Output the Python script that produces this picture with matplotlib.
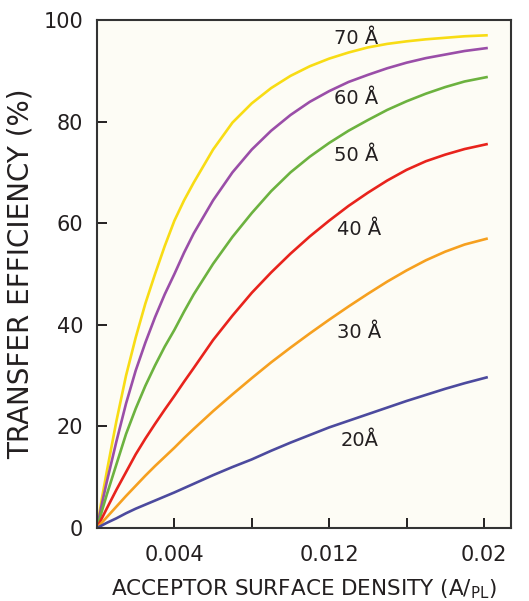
import matplotlib
matplotlib.use("Agg")
import matplotlib.pyplot as plt

# acceptor surface density (A/PL)
density = [0, 0.00025, 0.0005, 0.001, 0.0015, 0.002, 0.0025, 0.003, 0.0035, 0.004, 0.0045,
           0.005, 0.006, 0.007, 0.008, 0.009, 0.010, 0.011, 0.012, 0.013, 0.014,
           0.015, 0.016, 0.017, 0.018, 0.019, 0.0202]

# transfer efficiency (%) for each R0
eff_70 = [0, 5.8, 11, 21, 30, 37.5, 44.2, 50, 55.5, 60.5, 64.5, 68, 74.5, 79.8, 83.6, 86.6, 89,
          90.9, 92.4, 93.6, 94.6, 95.3, 95.8, 96.2, 96.5, 96.8, 97]
eff_60 = [0, 4.7, 9, 17, 24.5, 31, 36.5, 41.5, 46, 50, 54.2, 58, 64.5, 70, 74.5, 78.2, 81.3,
          83.9, 86, 87.8, 89.2, 90.5, 91.6, 92.5, 93.2, 93.9, 94.5]
eff_50 = [0, 3.3, 6.5, 12.5, 18.5, 23.5, 28, 32, 35.7, 39, 42.6, 46, 52, 57.3, 62, 66.3, 70,
          73.1, 75.8, 78.2, 80.3, 82.3, 84, 85.5, 86.8, 87.9, 88.8]
eff_40 = [0, 1.9, 3.8, 7.5, 11, 14.5, 17.6, 20.5, 23.3, 26, 28.8, 31.5, 37, 41.8, 46.3, 50.3, 54,
          57.4, 60.5, 63.4, 66, 68.4, 70.5, 72.2, 73.5, 74.6, 75.6]
eff_30 = [0, 1.05, 2.1, 4.2, 6.3, 8.3, 10.3, 12.2, 14, 15.8, 17.7, 19.5, 23, 26.3, 29.5, 32.6, 35.5,
          38.3, 41, 43.6, 46.1, 48.5, 50.7, 52.7, 54.4, 55.8, 57]
eff_20 = [0, 0.5, 1, 1.9, 2.9, 3.8, 4.6, 5.4, 6.2, 7, 7.85, 8.7, 10.4, 12, 13.5, 15.2, 16.8,
          18.3, 19.8, 21.1, 22.4, 23.7, 25, 26.2, 27.4, 28.5, 29.7]

series = [eff_70, eff_60, eff_50, eff_40, eff_30, eff_20]
colors = ['#f8dc14', '#9a4ea8', '#6cb23f', '#e8231c', '#f6a01f', '#4c4a9e']

labels = ['70 Å', '60 Å', '50 Å', '40 Å', '30 Å', '20Å']
label_x = [0.0134, 0.0134, 0.0134, 0.01355, 0.01355, 0.01355]
label_y = [96.3, 84.6, 73.4, 58.7, 38.4, 17.3]

ink = '#231f20'

fig = plt.figure(figsize=(5.29, 6.01), dpi=100)
ax = fig.add_axes([0.1834, 0.1215, 0.7826, 0.8452])
ax.set_facecolor('#fdfcf5')

for vals, c in zip(series, colors):
    ax.plot(density, vals, color=c, lw=1.9, solid_capstyle='butt')

for t, x, y in zip(labels, label_x, label_y):
    ax.text(x, y, t, ha='center', va='center', fontsize=14, color=ink)

ax.set_xlim(0, 0.0214)
ax.set_ylim(0, 100)

ax.set_xticks([0.004, 0.008, 0.012, 0.016, 0.02])
ax.set_xticklabels(['0.004', '', '0.012', '', '0.02'])
ax.set_yticks([0, 20, 40, 60, 80, 100])
ax.set_yticklabels(['0', '20', '40', '60', '80', '100'])

ax.tick_params(direction='in', length=7, width=1.4, colors=ink,
               labelsize=15, pad=10)
ax.tick_params(axis='x', pad=12)

for s in ax.spines.values():
    s.set_linewidth(1.5)
    s.set_color('#333333')

ax.set_xlabel('ACCEPTOR SURFACE DENSITY (A/$_\\mathregular{PL}$)',
              fontsize=15.5, color=ink, labelpad=9)
ax.set_ylabel('TRANSFER EFFICIENCY (%)', fontsize=20, color=ink)
ax.yaxis.set_label_coords(-0.15, 0.5)

fig.savefig('out.png', dpi=100)
